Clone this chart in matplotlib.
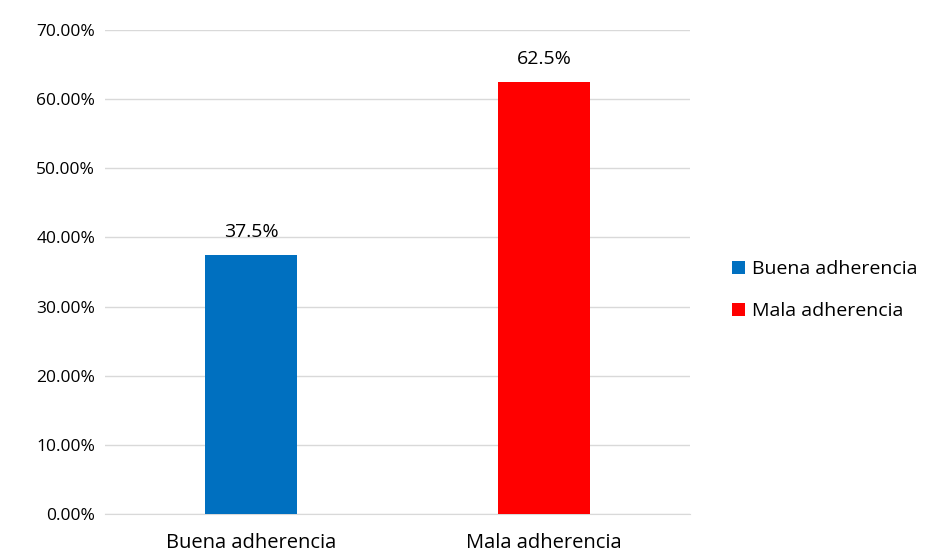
import matplotlib.pyplot as plt
from matplotlib.patches import Patch
from matplotlib.ticker import PercentFormatter

plt.rcParams['font.family'] = ['Open Sans', 'DejaVu Sans']

categorias = ['Buena adherencia', 'Mala adherencia']
valores = [37.5, 62.5]
colores = ['#0070C0', '#FF0000']
yticks = [0, 10, 20, 30, 40, 50, 60, 70]

fig = plt.figure(figsize=(9.28, 5.56), dpi=100)
ax = fig.add_axes([0.113, 0.0755, 0.631, 0.8705])

barras = ax.bar(range(len(categorias)), valores, width=0.315, color=colores, zorder=3)
for b, v in zip(barras, valores):
    ax.text(b.get_x() + b.get_width() / 2, v + 2.0, f'{v}%', ha='center', va='bottom',
            fontsize=14, color='#000000')

ax.set_xlim(-0.5, 1.5)
ax.set_ylim(0, 70)
ax.set_yticks(yticks)
ax.yaxis.set_major_formatter(PercentFormatter(decimals=2))
ax.set_xticks(range(len(categorias)))
ax.set_xticklabels(categorias)
ax.tick_params(axis='both', length=0, colors='#000000')
ax.tick_params(axis='y', pad=7, labelsize=12.5)
ax.tick_params(axis='x', pad=14, labelsize=14.5)
ax.grid(axis='y', color='#D9D9D9', linewidth=1, zorder=0)
for s in ['top', 'right', 'left']:
    ax.spines[s].set_visible(False)
ax.spines['bottom'].set_color('#D9D9D9')

handles = [Patch(facecolor=c, label=l) for c, l in zip(colores, categorias)]
fig.legend(handles=handles, loc='center left', bbox_to_anchor=(0.770, 0.478), frameon=False,
           fontsize=14, handlelength=0.65, handleheight=0.65, handletextpad=0.35, labelspacing=1.25)

plt.savefig('out.png', dpi=100)
